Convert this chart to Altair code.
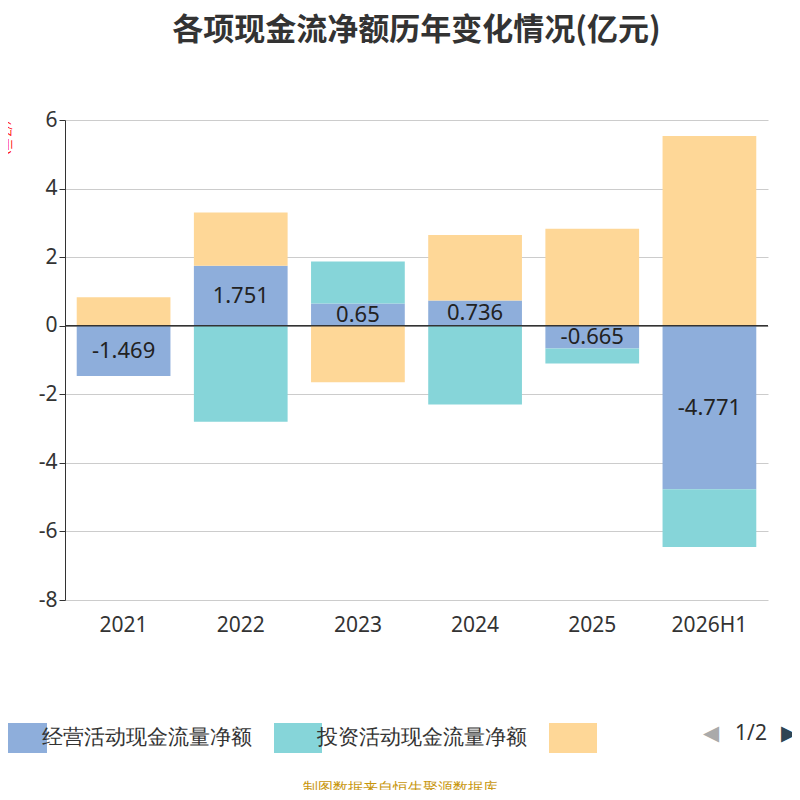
import altair as alt
import pandas as pd

years = ["2021", "2022", "2023", "2024", "2025", "2026H1"]
operating = [-1.469, 1.751, 0.65, 0.736, -0.665, -4.771]
investing = [0.0, -2.8, 1.22, -2.3, -0.435, -1.68]
financing = [0.83, 1.55, -1.65, 1.91, 2.83, 5.53]
series = ["经营活动现金流量净额", "投资活动现金流量净额", "筹资活动现金流量净额"]
colors = ["#8eaedb", "#86d5d9", "#fed797"]

rows = []
for i, y in enumerate(years):
    for k, (s, vals) in enumerate(zip(series, [operating, investing, financing])):
        rows.append({"year": y, "series": s, "value": vals[i], "order": k})
df = pd.DataFrame(rows)
lab = pd.DataFrame({"year": years, "op": operating})

xenc = alt.X("year:N", sort=years, title=None,
             scale=alt.Scale(paddingInner=0.2, paddingOuter=0.1),
             axis=alt.Axis(labelAngle=0, labelFontSize=21, labelColor="#333", domain=False,
                           ticks=False, labelPadding=14, labelFont="Noto Sans"))

bars = alt.Chart(df).mark_bar().encode(
    x=xenc,
    y=alt.Y("value:Q", stack="zero", title="(亿元)",
            scale=alt.Scale(domain=[-8, 6], nice=False),
            axis=alt.Axis(values=[-8, -6, -4, -2, 0, 2, 4, 6], labelFontSize=21, labelColor="#333",
                          gridColor="#ccc", domainColor="#333", tickColor="#333", tickSize=6,
                          labelFont="Noto Sans", titleColor="red", titleFontSize=13,
                          titleFontWeight="normal", titleAngle=90,
                          titleX=-60, titleY=0, titleAlign="left", titleBaseline="middle",
                          labelExpr="replace(datum.label, '−', '-')")),
    color=alt.Color("series:N", sort=series, scale=alt.Scale(domain=series, range=colors),
                    legend=alt.Legend(orient="none", legendX=-57, legendY=603, direction="horizontal",
                                      title=None, labelFontSize=21, labelColor="#333",
                                      labelFont="Noto Sans", symbolSize=900,
                                      symbolType="M-1.6,-1 L1.6,-1 L1.6,1 L-1.6,1 Z",
                                      symbolStrokeWidth=0, columnPadding=22, labelLimit=260,
                                      labelExpr="datum.label == '筹资活动现金流量净额' ? '' : datum.label")),
    order=alt.Order("order:Q"),
)

zero = alt.Chart(pd.DataFrame({"z": [0]})).mark_rule(color="#333", strokeWidth=1.5).encode(y="z:Q")

text = alt.Chart(lab).transform_calculate(mid="datum.op/2", t="'' + datum.op").mark_text(
    fontSize=22, color="#222", font="Noto Sans").encode(
    x=alt.X("year:N", sort=years), y="mid:Q", text=alt.Text("t:N"))

pager = alt.Chart(pd.DataFrame({"t": ["◀", "1/2", "▶"], "x": [646, 686, 724],
                                "c": ["#aaa", "#333", "#2f4554"]})).mark_text(
    fontSize=21, font="Noto Sans").encode(
    x=alt.X("x:Q", scale=None), y=alt.value(614), text="t:N", color=alt.Color("c:N", scale=None))

footer = alt.Chart(pd.DataFrame({"t": ["制图数据来自恒生聚源数据库"]})).mark_text(
    fontSize=15, color="#c8960c", font="Noto Sans").encode(
    text="t:N", x=alt.value(335), y=alt.value(668))

chart = alt.layer(bars, zero, text, pager, footer).properties(
    width=703, height=480,
    autosize=alt.AutoSizeParams(type="none"),
    padding={"left": 57, "top": 112, "right": 24, "bottom": 190},
    title=alt.TitleParams("各项现金流净额历年变化情况(亿元)", fontSize=31, fontWeight="bold",
                          color="#333", font="Noto Sans CJK SC", offset=62, anchor="middle"),
).configure_view(stroke=None).resolve_scale(color="independent")

chart.save("out.html", embed_options={"renderer": "svg", "actions": False})
